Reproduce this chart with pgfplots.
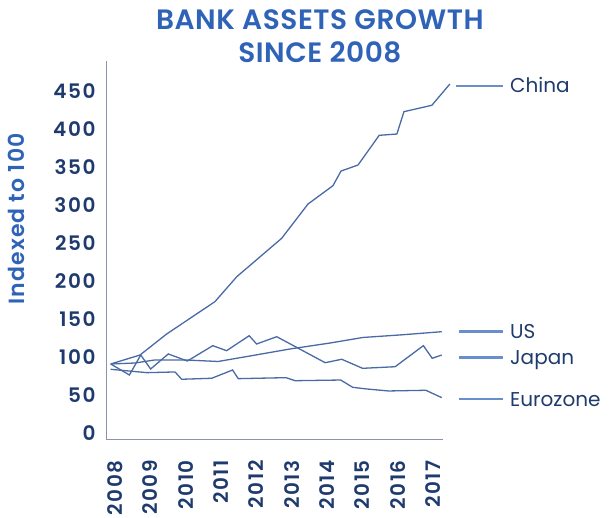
\documentclass[border=0pt]{standalone}
\usepackage{fontspec}
\setmainfont{Poppins}
\newfontfamily\popsemi{Poppins SemiBold}
\usepackage{pgfplots}
\pgfplotsset{compat=1.18}

\definecolor{titleblue}{HTML}{2F63B8}
\definecolor{navy}{HTML}{1F3B6E}
\definecolor{lineblue}{HTML}{4A6AA6}
\definecolor{legblue}{HTML}{6A8DCC}
\definecolor{axisgrey}{HTML}{8A94A6}

\begin{document}
\begin{tikzpicture}
\begin{axis}[
  scale only axis,
  width=336.6pt, height=379pt,
  xmin=2007.887, xmax=2017.414,
  ymin=0, ymax=498.7,
  axis x line*=bottom, axis y line*=left,
  axis line style={axisgrey, line width=1pt},
  clip=false,
  no markers,
  xtick={2008.12,2009.12,2010.12,2011.12,2012.12,2013.12,2014.12,2015.12,2016.12,2017.12},
  xticklabels={2008,2009,2010,2011,2012,2013,2014,2015,2016,2017},
  ytick={8.55,58.55,108.55,158.55,208.55,258.55,308.55,358.55,408.55,458.55},
  yticklabels={0,50,100,150,200,250,300,350,400,450},
  major tick length=0pt,
  tick label style={font=\popsemi\fontsize{20}{24}\selectfont\addfontfeatures{LetterSpace=8}, text=navy, inner sep=0pt},
  xticklabel style={rotate=90, anchor=east},
  xticklabel shift=20pt,
  yticklabel shift=11pt,
  /pgf/number format/assume math mode=true,
]

% China
\addplot[lineblue, line width=1.3pt] coordinates {
  (2008.00,100) (2008.83,111.8) (2009.585,139.5) (2010.95,182.0)
  (2011.57,214.9) (2012.84,265.4) (2013.585,310.5) (2014.29,334.6)
  (2014.52,353.9) (2015.00,361.8) (2015.60,400.9) (2016.10,402.6)
  (2016.30,432.0) (2017.09,440.4) (2017.60,468.4)
};
% US
\addplot[lineblue, line width=1.3pt] coordinates {
  (2008.00,100) (2008.69,101.3) (2009.25,105.3) (2010.10,105.3)
  (2011.04,103.3) (2011.94,110.5) (2013.07,119.7) (2014.21,127.6)
  (2015.14,134.9) (2016.19,138.2) (2017.37,142.5)
};
% Japan
\addplot[lineblue, line width=1.3pt] coordinates {
  (2008.00,100) (2008.53,85.5) (2008.85,111.8) (2009.13,93.4)
  (2009.63,113.2) (2010.17,103.9) (2010.89,124.1) (2011.28,117.5)
  (2011.92,137.2) (2012.13,126.3) (2012.70,135.9) (2014.07,101.7)
  (2014.54,106.2) (2015.13,94.3) (2016.05,96.4) (2016.85,124.1)
  (2017.10,107.5) (2017.37,111.8)
};
% Eurozone
\addplot[lineblue, line width=1.3pt] coordinates {
  (2008.00,93.0) (2009.02,88.6) (2009.82,89.5) (2010.01,79.9)
  (2010.86,81.2) (2011.45,92.1) (2011.61,80.7) (2012.96,82.0)
  (2013.22,78.0) (2014.51,78.9) (2014.85,69.3) (2015.25,67.1)
  (2015.86,64.5) (2016.92,65.4) (2017.37,55.7)
};

% series labels
\addplot[legblue, line width=2.8pt, forget plot] coordinates {(2017.77,465.8) (2019.10,465.8)};
\addplot[legblue, line width=2.8pt, forget plot] coordinates {(2017.86,142.5) (2019.10,142.5)};
\addplot[legblue, line width=2.8pt, forget plot] coordinates {(2017.86,108.8) (2019.10,108.8)};
\addplot[legblue, line width=2.8pt, forget plot] coordinates {(2017.86,53.9) (2019.10,53.9)};
\node[anchor=base west, inner sep=0pt, text=navy, font=\fontsize{20}{24}\selectfont] at (axis cs:2019.30,456.6) {China};
\node[anchor=base west, inner sep=0pt, text=navy, font=\fontsize{20}{24}\selectfont] at (axis cs:2019.30,133.8) {US};
\node[anchor=base west, inner sep=0pt, text=navy, font=\fontsize{20}{24}\selectfont] at (axis cs:2019.30,98.7) {Japan};
\node[anchor=base west, inner sep=0pt, text=navy, font=\fontsize{20}{24}\selectfont] at (axis cs:2019.30,43.8) {Eurozone};

% title and axis label
\node[anchor=base, inner sep=0pt, text=titleblue, font=\popsemi\fontsize{28}{34}\selectfont\addfontfeatures{LetterSpace=2}] at (axis cs:2013.92,540.4) {BANK ASSETS GROWTH};
\node[anchor=base, inner sep=0pt, text=titleblue, font=\popsemi\fontsize{28}{34}\selectfont\addfontfeatures{LetterSpace=2}] at (axis cs:2013.92,496.4) {SINCE 2008};
\node[rotate=90, inner sep=0pt, text=titleblue, font=\popsemi\fontsize{22}{26}\selectfont\addfontfeatures{LetterSpace=5}] at (axis cs:2005.34,290.8) {Indexed to 100};

\coordinate (bl) at (axis cs:2004.867,-102.6);
\coordinate (tr) at (axis cs:2022.217,578.95);
\end{axis}
\pgfresetboundingbox
\path[use as bounding box] (bl) rectangle (tr);
\end{tikzpicture}
\end{document}
